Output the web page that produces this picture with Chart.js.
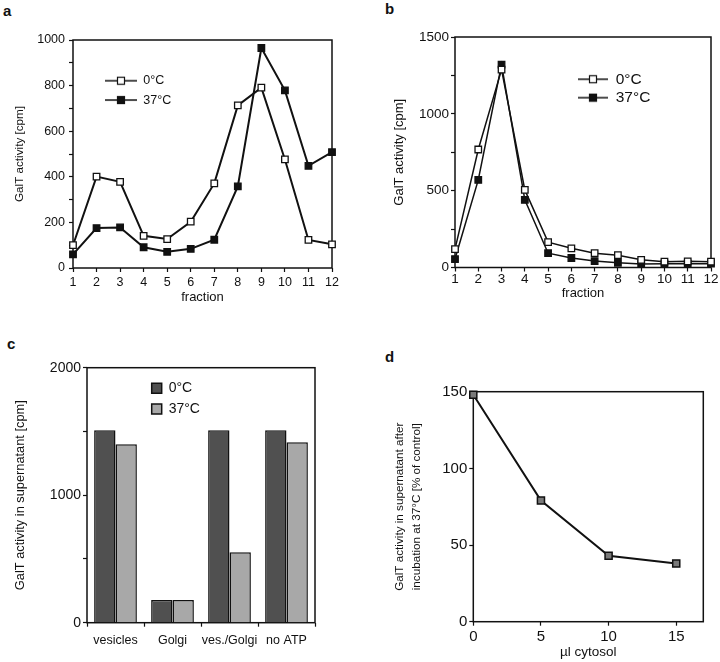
<!DOCTYPE html>
<html>
<head>
<meta charset="utf-8">
<script src="https://cdn.jsdelivr.net/npm/chart.js@4.4.1/dist/chart.umd.min.js"></script>
<style>
  body { margin: 0; width: 720px; height: 662px; position: relative; overflow: hidden; background: #fff; font-family: "Liberation Sans", Arial, sans-serif; }
  canvas { position: absolute; }
  .tag { position: absolute; font-weight: bold; font-size: 15px; line-height: 15px; color: #111; }
</style>
</head>
<body>
<div class="tag" style="left:3px;top:3px">a</div>
<div class="tag" style="left:385px;top:1px">b</div>
<div class="tag" style="left:7px;top:336px">c</div>
<div class="tag" style="left:385px;top:349px">d</div>

<canvas id="chartA" width="360" height="310" style="left:0;top:0"></canvas>
<canvas id="chartB" width="360" height="310" style="left:360px;top:0"></canvas>
<canvas id="chartC" width="360" height="332" style="left:0;top:330px"></canvas>
<canvas id="chartD" width="360" height="332" style="left:360px;top:330px"></canvas>

<script>
// data
const fractions = ['1', '2', '3', '4', '5', '6', '7', '8', '9', '10', '11', '12'];
const seriesNames = ['0°C', '37°C'];

// a
const aCold = [100, 401, 378, 141, 127, 203, 371, 713, 791, 476, 123, 104];
const aWarm = [60, 175, 178, 91, 71, 84, 124, 358, 965, 779, 448, 508];

// b
const bCold = [120, 768, 1288, 505, 165, 125, 93, 80, 50, 38, 40, 38];
const bWarm = [55, 570, 1320, 440, 93, 62, 42, 31, 23, 25, 25, 25];

// c
const treatments = ['vesicles', 'Golgi', 'ves./Golgi', 'no ATP'];
const cCold = [1510, 178, 1510, 1510];
const cWarm = [1400, 178, 552, 1415];

// d
const cytosol = [0, 5, 10, 15];
const dPercent = [148, 79, 43, 38];

const ink = '#111';
const font = 'Liberation Sans, Arial, sans-serif';

// box round the plot area
const frame = {
    id: 'frame',
    beforeDatasetsDraw(chart) {
        const { ctx, chartArea: a } = chart;
        ctx.save();
        ctx.strokeStyle = ink;
        ctx.lineWidth = 1.5;
        ctx.strokeRect(a.left, a.top, a.right - a.left, a.bottom - a.top);
        ctx.restore();
    }
};

// move the legend to a spot inside the plot
const legendAt = {
    id: 'legendAt',
    beforeDraw(chart, args, opts) {
        const lg = chart.legend;
        const pad = lg.options.labels.padding;
        lg.left = opts.x - pad;
        lg.top = opts.y - pad;
    }
};

function lineKey(filled, w) {
    const c = document.createElement('canvas');
    c.width = w;
    c.height = 10;
    const g = c.getContext('2d');
    g.strokeStyle = ink;
    g.lineWidth = 1.5;
    g.beginPath();
    g.moveTo(0, 5);
    g.lineTo(w, 5);
    g.stroke();
    g.fillStyle = filled ? ink : '#fff';
    g.fillRect(w / 2 - 3.5, 1.5, 7, 7);
    g.lineWidth = 1.2;
    g.strokeRect(w / 2 - 3.5, 1.5, 7, 7);
    return c;
}

function tickGrid(len) {
    return { display: true, drawOnChartArea: false, drawTicks: true, tickLength: len, tickColor: ink, tickWidth: 1.2 };
}

function fixWidth(w) { return (s) => { s.width = w; }; }
function fixHeight(h) { return (s) => { s.height = h; }; }

function lineSet(label, values, filled, width) {
    return {
        label: label,
        data: values,
        borderColor: ink,
        borderWidth: width,
        pointStyle: 'rect',
        pointRadius: 4.6,
        pointBorderWidth: 1.3,
        pointBackgroundColor: filled ? ink : '#fff',
        pointBorderColor: ink,
        tension: 0,
        clip: false
    };
}

function lineLegend(size, pad, keyW) {
    return {
        position: 'chartArea',
        align: 'start',
        labels: {
            color: ink,
            font: { family: font, size: size },
            padding: pad,
            usePointStyle: true,
            pointStyleWidth: keyW,
            generateLabels: (chart) => chart.data.datasets.map((ds, i) => ({
                text: ds.label,
                pointStyle: lineKey(i === 1, keyW),
                datasetIndex: i,
                hidden: false,
                fontColor: ink,
                lineWidth: 0,
                fillStyle: 'transparent',
                strokeStyle: 'transparent'
            }))
        }
    };
}

// panel a
new Chart(document.getElementById('chartA'), {
    type: 'line',
    data: {
        labels: fractions,
        datasets: [lineSet(seriesNames[0], aCold, false, 2), lineSet(seriesNames[1], aWarm, true, 2)]
    },
    options: {
        responsive: false,
        animation: false,
        layout: { padding: { left: 0, top: 40, right: 28, bottom: 0 } },
        plugins: {
            legend: lineLegend(12.5, 6.8, 32),
            legendAt: { x: 105, y: 74.5 },
            tooltip: { enabled: false }
        },
        scales: {
            x: {
                afterFit: fixHeight(42),
                grid: tickGrid(4),
                border: { display: false },
                ticks: { color: ink, font: { family: font, size: 12.5 }, padding: 3, autoSkip: false, maxRotation: 0 },
                title: { display: true, text: 'fraction', color: ink, font: { family: font, size: 13 }, padding: { top: 0, bottom: 5 } }
            },
            y: {
                min: 0,
                max: 1000,
                afterFit: fixWidth(73),
                grid: tickGrid(4),
                border: { display: false },
                ticks: { stepSize: 100, color: ink, font: { family: font, size: 12.5 }, padding: 4,
                    callback: (v) => (v % 200 === 0 ? String(v) : '') },
                title: { display: true, text: 'GalT activity [cpm]', color: ink, font: { family: font, size: 11.7 }, padding: { top: 13, bottom: 0 } }
            }
        }
    },
    plugins: [frame, legendAt]
});

// panel b
new Chart(document.getElementById('chartB'), {
    type: 'line',
    data: {
        labels: fractions,
        datasets: [lineSet(seriesNames[0], bCold, false, 1.5), lineSet(seriesNames[1], bWarm, true, 1.5)]
    },
    options: {
        responsive: false,
        animation: false,
        layout: { padding: { left: 0, top: 37, right: 9, bottom: 0 } },
        plugins: {
            legend: lineLegend(15.5, 2.9, 30),
            legendAt: { x: 218, y: 71.5 },
            tooltip: { enabled: false }
        },
        scales: {
            x: {
                afterFit: fixHeight(42.5),
                grid: tickGrid(4),
                border: { display: false },
                ticks: { color: ink, font: { family: font, size: 13.5 }, padding: 0, autoSkip: false, maxRotation: 0 },
                title: { display: true, text: 'fraction', color: ink, font: { family: font, size: 13 }, padding: { top: 0, bottom: 9 } }
            },
            y: {
                min: 0,
                max: 1500,
                afterFit: fixWidth(95),
                grid: tickGrid(4),
                border: { display: false },
                ticks: { stepSize: 250, color: ink, font: { family: font, size: 13.5 }, padding: 2,
                    callback: (v) => (v % 500 === 0 ? String(v) : '') },
                title: { display: true, text: 'GalT activity [cpm]', color: ink, font: { family: font, size: 13 }, padding: { top: 32, bottom: 0 } }
            }
        }
    },
    plugins: [frame, legendAt]
});

// panel c
new Chart(document.getElementById('chartC'), {
    type: 'bar',
    data: {
        labels: treatments,
        datasets: [
            { label: seriesNames[0], data: cCold, backgroundColor: '#505050', borderColor: ink, borderWidth: 1.5 },
            { label: seriesNames[1], data: cWarm, backgroundColor: '#a8a8a8', borderColor: ink, borderWidth: 1.5 }
        ]
    },
    options: {
        responsive: false,
        animation: false,
        categoryPercentage: 0.75,
        barPercentage: 1,
        layout: { padding: { left: 0, top: 37.7, right: 45, bottom: 0 } },
        plugins: {
            legend: {
                position: 'chartArea',
                align: 'start',
                labels: { color: ink, font: { family: font, size: 14 }, padding: 6.7, boxWidth: 10, boxHeight: 10 }
            },
            legendAt: { x: 151.7, y: 51.3 },
            tooltip: { enabled: false }
        },
        scales: {
            x: {
                afterFit: fixHeight(39.3),
                grid: tickGrid(4),
                border: { display: false },
                ticks: { color: ink, font: { family: font, size: 12.5 }, padding: 6, autoSkip: false, maxRotation: 0 }
            },
            y: {
                min: 0,
                max: 2000,
                afterFit: fixWidth(87),
                grid: tickGrid(4),
                border: { display: false },
                ticks: { stepSize: 500, color: ink, font: { family: font, size: 14 }, padding: 2,
                    callback: (v) => (v % 1000 === 0 ? String(v) : '') },
                title: { display: true, text: 'GalT activity in supernatant [cpm]', color: ink, font: { family: font, size: 12.8 }, padding: { top: 12.3, bottom: 0 } }
            }
        }
    },
    plugins: [frame, legendAt]
});

// panel d
new Chart(document.getElementById('chartD'), {
    type: 'line',
    data: {
        datasets: [{
            label: 'control',
            data: cytosol.map((x, i) => ({ x: x, y: dPercent[i] })),
            borderColor: ink,
            borderWidth: 2,
            pointStyle: 'rect',
            pointRadius: 5,
            pointBorderWidth: 1.5,
            pointBackgroundColor: '#7a7a7a',
            pointBorderColor: ink,
            tension: 0,
            clip: false
        }]
    },
    options: {
        responsive: false,
        animation: false,
        layout: { padding: { left: 0, top: 61.7, right: 16.7, bottom: 0 } },
        plugins: {
            legend: { display: false },
            tooltip: { enabled: false }
        },
        scales: {
            x: {
                type: 'linear',
                min: 0,
                max: 17,
                afterFit: fixHeight(40.3),
                grid: tickGrid(4),
                border: { display: false },
                ticks: { stepSize: 5, includeBounds: false, color: ink, font: { family: font, size: 15 }, padding: 2, maxRotation: 0 },
                title: { display: true, text: 'µl cytosol', color: ink, font: { family: font, size: 13.5 }, padding: { top: 0, bottom: 2 } }
            },
            y: {
                min: 0,
                max: 150,
                afterFit: fixWidth(113.3),
                grid: tickGrid(4),
                border: { display: false },
                ticks: { stepSize: 50, color: ink, font: { family: font, size: 15 }, padding: 2 },
                title: { display: true, text: ['GalT activity in supernatant after', 'incubation at 37°C [% of control]'],
                    color: ink, font: { family: font, size: 11.7, lineHeight: 1.42 }, padding: { top: 31.7, bottom: 0 } }
            }
        }
    },
    plugins: [frame]
});
</script>
</body>
</html>
